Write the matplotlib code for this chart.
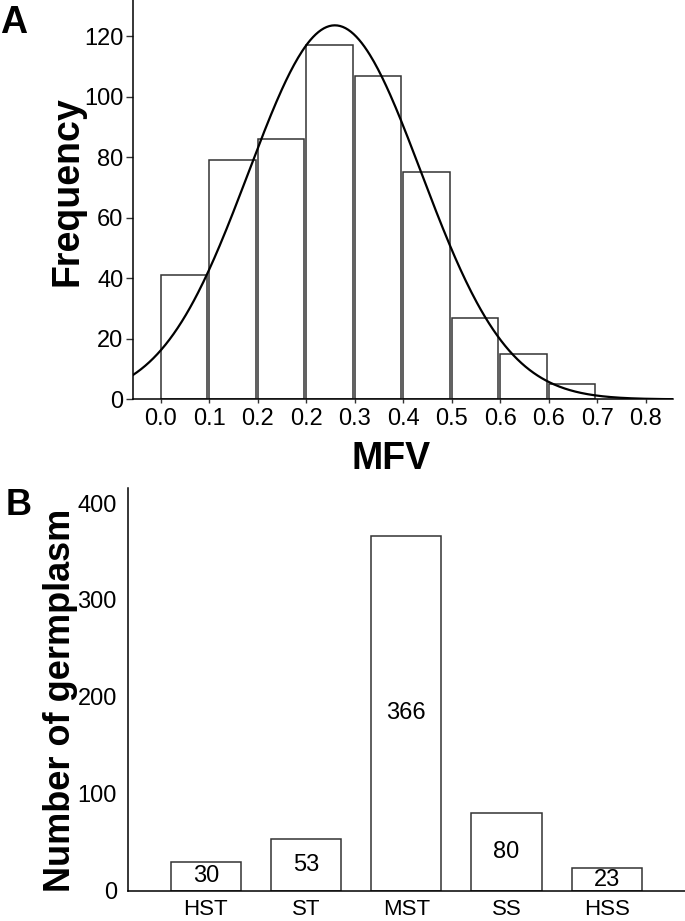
import numpy as np
import matplotlib
matplotlib.use("Agg")
import matplotlib.pyplot as plt
from matplotlib.ticker import FormatStrFormatter

plt.rcParams["font.family"] = ["Liberation Sans", "DejaVu Sans"]

# Панель A: гистограмма MFV (ширина интервала 0.08)
BIN_WIDTH = 0.08
bin_edges = [0.00, 0.08, 0.16, 0.24, 0.32, 0.40, 0.48, 0.56, 0.64, 0.72, 0.80]
mfv_counts = [41, 79, 86, 117, 107, 75, 27, 15, 5]
# параметры нормальной кривой, подогнанной к гистограмме
FIT_MEAN = 0.287
FIT_SD = 0.1425

# Панель B: число образцов по классам
classes = ["HST", "ST", "MST", "SS", "HSS"]
class_counts = [30, 53, 366, 80, 23]

EDGE = "#333333"

fig = plt.figure(figsize=(6.85, 9.21), dpi=100)

# --- A ---
ax1 = fig.add_axes([0.1942, 0.5664, 0.7883, 0.4336])
ax1.bar(bin_edges[:len(mfv_counts)], mfv_counts, width=BIN_WIDTH * 0.955,
        align="edge", color="white", edgecolor=EDGE, linewidth=1.1, zorder=2)

xmin, xmax = -0.046, 0.845
xs = np.linspace(xmin, xmax, 400)
n_total = sum(mfv_counts)
pdf = np.exp(-0.5 * ((xs - FIT_MEAN) / FIT_SD) ** 2) / (FIT_SD * np.sqrt(2 * np.pi))
ax1.plot(xs, n_total * BIN_WIDTH * pdf, color="black", linewidth=1.6, zorder=3)

ax1.set_xlim(xmin, xmax)
ax1.set_ylim(0, 132)
ax1.set_xticks(bin_edges)
ax1.xaxis.set_major_formatter(FormatStrFormatter("%.1f"))
ax1.set_yticks([0, 20, 40, 60, 80, 100, 120])
ax1.tick_params(axis="both", labelsize=17, width=1.0, color="#333333")
ax1.tick_params(axis="x", length=3, pad=3)
ax1.tick_params(axis="y", length=5, pad=2)
for s in ["top", "right"]:
    ax1.spines[s].set_visible(False)
for s in ["left", "bottom"]:
    ax1.spines[s].set_linewidth(1.1)

fig.text(67 / 685, 1 - 191 / 921, "Frequency", rotation=90, ha="center",
         va="center", fontsize=27, fontweight="bold")
fig.text(391 / 685, 1 - 469 / 921, "MFV", ha="center", va="baseline",
         fontsize=27, fontweight="bold")
fig.text(0.0, 1 - 33 / 921, "A", ha="left", va="baseline", fontsize=27,
         fontweight="bold")

# --- B ---
ax2 = fig.add_axes([0.1869, 0.0329, 0.8131, 0.4372])
pos = np.arange(len(classes))
bars = ax2.bar(pos, class_counts, width=0.7, color="white", edgecolor=EDGE,
               linewidth=1.1)
ax2.bar_label(bars, labels=[str(v) for v in class_counts], label_type="center",
              fontsize=17)
ax2.set_xlim(-0.775, 4.78)
ax2.set_ylim(0, 415.5)
ax2.set_xticks(pos)
ax2.set_xticklabels(classes)
ax2.set_yticks([0, 100, 200, 300, 400])
ax2.tick_params(axis="both", labelsize=17, length=0)
ax2.tick_params(axis="x", labelsize=16, pad=6)
ax2.tick_params(axis="y", pad=8)
for s in ["top", "right"]:
    ax2.spines[s].set_visible(False)
for s in ["left", "bottom"]:
    ax2.spines[s].set_linewidth(1.1)

fig.text(61 / 685, 1 - 700 / 921, "Number of germplasm", rotation=90,
         ha="center", va="center", fontsize=26, fontweight="bold")
fig.text(6 / 685, 1 - 515 / 921, "B", ha="left", va="baseline", fontsize=26,
         fontweight="bold")

fig.savefig("out.png", dpi=100)
